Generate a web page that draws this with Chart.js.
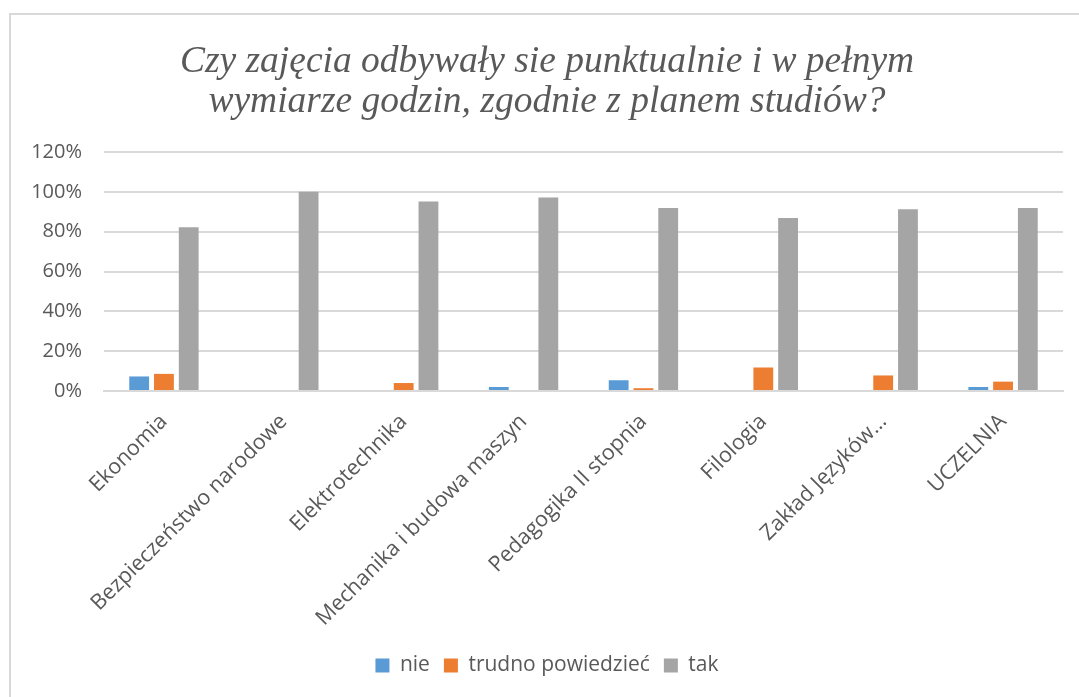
<!DOCTYPE html>
<html>
<head>
<meta charset="utf-8">
<script src="https://cdn.jsdelivr.net/npm/chart.js@4/dist/chart.umd.min.js"></script>
<style>
    html, body { margin: 0; padding: 0; background: #ffffff; }
    #frame
    {
        position: absolute;
        left: 9px;
        top: 13px;
        width: 1070px;
        height: 684px;
        border-top: 2px solid #d9d9d9;
        border-left: 2px solid #d9d9d9;
    }
    #wrap { position: absolute; left: 0; top: 0; width: 1079px; height: 697px; }
</style>
</head>
<body>
<div id="frame"></div>
<div id="wrap"><canvas id="myChart" width="1079" height="697"></canvas></div>
<script>
const categories =
[
    'Ekonomia',
    'Bezpieczeństwo narodowe',
    'Elektrotechnika',
    'Mechanika i budowa maszyn',
    'Pedagogika II stopnia',
    'Filologia',
    'Zakład Języków…',
    'UCZELNIA'
];

const nie = [7.3, 0, 0, 2.0, 5.4, 0, 0, 2.0];
const trudno = [8.6, 0, 4.0, 0, 1.4, 11.8, 7.8, 4.7];
const tak = [82.2, 100, 95.1, 97.2, 91.9, 86.9, 91.3, 91.9];

const seriesNames = ['nie', 'trudno powiedzieć', 'tak'];
const yTicks = [0, 20, 40, 60, 80, 100, 120];

const titleLines =
[
    'Czy zajęcia odbywały sie punktualnie i w pełnym',
    'wymiarze godzin, zgodnie z planem studiów?'
];

const textColor = '#595959';
const gridColor = '#d9d9d9';

var ctx = document.getElementById('myChart');

const data =
{
    labels: categories,
    datasets:
    [
        {
            label: seriesNames[0],
            data: nie,
            backgroundColor: '#5b9bd5'
        },
        {
            label: seriesNames[1],
            data: trudno,
            backgroundColor: '#ed7d31'
        },
        {
            label: seriesNames[2],
            data: tak,
            backgroundColor: '#a5a5a5'
        }
    ]
}

new Chart(ctx,
{
    type: 'bar',
    data: data,
    options:
    {
        responsive: false,
        animation: false,
        devicePixelRatio: 1,
        layout:
        {
            padding: { left: 31, right: 16, top: 28, bottom: 11 }
        },
        datasets:
        {
            bar:
            {
                categoryPercentage: 0.62,
                barPercentage: 0.8
            }
        },
        plugins:
        {
            title:
            {
                display: true,
                text: titleLines,
                color: textColor,
                font: { family: '"Liberation Serif"', style: 'italic', size: 37.5, weight: 'normal', lineHeight: 1.067 },
                padding: { top: 14, bottom: 30 }
            },
            legend:
            {
                position: 'bottom',
                labels:
                {
                    color: textColor,
                    font: { family: '"Open Sans"', size: 21 },
                    boxWidth: 14,
                    boxHeight: 14,
                    padding: 14
                }
            },
            tooltip: { enabled: false }
        },
        scales:
        {
            x:
            {
                grid: { display: false },
                border: { color: gridColor, width: 2 },
                afterFit: (scale) =>
                {
                    scale.height = 250;
                    scale.paddingLeft = 0;
                    scale.paddingRight = 0;
                },
                ticks:
                {
                    color: textColor,
                    font: { family: '"Open Sans"', size: 21.5 },
                    maxRotation: 45,
                    minRotation: 45,
                    padding: 10
                }
            },
            y:
            {
                min: 0,
                max: 120,
                afterBuildTicks: (axis) =>
                {
                    axis.ticks = yTicks.map((v) => ({ value: v }));
                },
                afterFit: (scale) =>
                {
                    scale.width = 73;
                },
                grid: { color: gridColor, lineWidth: 2, drawTicks: false },
                border: { display: false },
                ticks:
                {
                    color: textColor,
                    font: { family: '"Open Sans"', size: 20 },
                    padding: 22,
                    callback: (v) => v + '%'
                }
            }
        }
    }
});
</script>
</body>
</html>
